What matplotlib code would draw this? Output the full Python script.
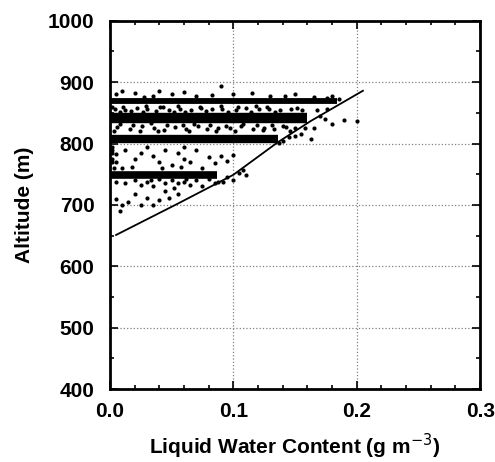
import numpy as np
import matplotlib.pyplot as plt
from matplotlib.ticker import MultipleLocator

# Constant-altitude flight legs: altitude (m), LWC range covered, band thickness (pt)
leg_alt = [869, 842, 807, 749]
leg_x_end = [0.184, 0.160, 0.136, 0.087]
leg_width = [4.2, 7.5, 6.0, 5.5]

# Scattered samples (LWC g m^-3, altitude m)
lwc_pts = [
    # above top leg
    0.005, 0.010, 0.020, 0.035, 0.040, 0.050, 0.060, 0.070, 0.090, 0.100,
    0.115, 0.130, 0.150, 0.165, 0.180, 0.028, 0.083, 0.142, 0.186, 0.176,
    # between top legs
    0.004, 0.012, 0.022, 0.030, 0.041, 0.048, 0.057, 0.066, 0.074, 0.083,
    0.091, 0.102, 0.110, 0.121, 0.129, 0.138, 0.147, 0.156, 0.168, 0.176,
    0.008, 0.017, 0.027, 0.037, 0.052, 0.061, 0.078, 0.096, 0.114, 0.134,
    0.006, 0.016, 0.026, 0.036, 0.044, 0.053, 0.062, 0.071, 0.079, 0.088,
    0.097, 0.106, 0.116, 0.125, 0.133, 0.143, 0.150,
    0.008, 0.019, 0.033, 0.046, 0.059, 0.068, 0.081, 0.094, 0.108, 0.119,
    0.131, 0.140, 0.003, 0.024, 0.039, 0.064, 0.086, 0.101, 0.124, 0.146,
    0.011, 0.029, 0.043, 0.055, 0.073, 0.090, 0.104, 0.118, 0.127, 0.152,
    0.002, 0.002, 0.002, 0.002,
    # right of the legs, near the boundary
    0.165, 0.174, 0.180, 0.190, 0.200, 0.163, 0.155, 0.150, 0.145, 0.158,
    0.140, 0.137, 0.170,
    # between 800 and 750 m
    0.005, 0.012, 0.020, 0.018, 0.030, 0.035, 0.040, 0.045, 0.050, 0.055,
    0.060, 0.065, 0.070, 0.075, 0.080, 0.085, 0.090, 0.095, 0.100, 0.005,
    0.010, 0.025, 0.042, 0.060, 0.058, 0.002, 0.002, 0.003,
    # just below the 750 m leg
    0.005, 0.012, 0.020, 0.025, 0.030, 0.035, 0.040, 0.045, 0.050, 0.052,
    0.055, 0.060, 0.065, 0.070, 0.075, 0.080, 0.085, 0.088, 0.045, 0.055,
    0.048, 0.040, 0.095, 0.100, 0.105, 0.108, 0.110, 0.092, 0.033, 0.062,
    # lowest samples
    0.005, 0.010, 0.008, 0.015, 0.025, 0.030, 0.035, 0.020,
]
alt_pts = [
    880, 885, 882, 878, 886, 880, 884, 878, 893, 880,
    882, 878, 880, 876, 878, 876, 879, 877, 873, 874,
    857, 855, 858, 856, 859, 854, 857, 855, 858, 856,
    857, 855, 858, 856, 857, 855, 856, 854, 855, 856,
    852, 853, 851, 853, 852, 851, 853, 852, 851, 852,
    827, 824, 828, 825, 822, 827, 824, 828, 823, 826,
    825, 828, 823, 826, 824, 827, 825,
    832, 830, 833, 831, 830, 832, 831, 829, 832, 830,
    831, 829, 821, 820, 821, 820, 821, 820, 822, 821,
    860, 861, 860, 861, 860, 861, 860, 861, 860, 858,
    770, 785, 795, 860,
    826, 840, 832, 838, 837, 807, 815, 812, 810, 825,
    804, 801, 845,
    783, 790, 775, 762, 795, 780, 770, 790, 765, 785,
    775, 770, 790, 760, 778, 768, 780, 772, 781, 770,
    760, 785, 760, 795, 762, 775, 790, 760,
    738, 735, 740, 732, 738, 730, 742, 735, 740, 728,
    735, 738, 732, 740, 730, 742, 735, 738, 722, 718,
    712, 708, 745, 740, 752, 757, 748, 738, 741, 743,
    710, 700, 690, 705, 700, 712, 700, 718,
]

# Lower boundary of the cloud
bound_lwc = [0.005, 0.055, 0.100, 0.136, 0.163, 0.205]
bound_alt = [651, 702, 749, 802, 837, 886]

plt.rcParams['font.family'] = ['Liberation Sans', 'DejaVu Sans']

fig = plt.figure(figsize=(4.95, 4.62), dpi=100)
ax = fig.add_axes([0.222, 0.158, 0.748, 0.797])

ax.hlines(leg_alt, 0.0, leg_x_end, colors='black', linewidth=leg_width, zorder=3)
ax.plot(lwc_pts, alt_pts, 'o', color='black', markersize=3.0, markeredgewidth=0, zorder=3)
ax.plot(bound_lwc, bound_alt, color='black', linewidth=1.3, zorder=4)

ax.set_xlim(0, 0.3)
ax.set_ylim(400, 1000)
ax.xaxis.set_major_locator(MultipleLocator(0.1))
ax.xaxis.set_minor_locator(MultipleLocator(0.02))
ax.yaxis.set_major_locator(MultipleLocator(100))
ax.yaxis.set_minor_locator(MultipleLocator(50))
ax.xaxis.set_major_formatter(plt.FuncFormatter(lambda v, p: f'{v:.1f}'))

ax.grid(True, which='major', color='gray', linestyle=':', linewidth=0.9)
ax.tick_params(which='both', direction='in', top=True, right=True, width=1.2)
ax.tick_params(which='major', length=6, labelsize=15)
ax.tick_params(axis='x', which='major', pad=9)
ax.tick_params(axis='y', which='major', pad=11)
ax.tick_params(which='minor', length=3)
for lab in ax.get_xticklabels() + ax.get_yticklabels():
    lab.set_fontweight('bold')
for sp in ax.spines.values():
    sp.set_linewidth(2)

ax.set_xlabel('Liquid Water Content (g m$^{-3}$)', fontsize=15, fontweight='bold', labelpad=8)
ax.set_ylabel('Altitude (m)', fontsize=15, fontweight='bold', labelpad=10)

fig.savefig('out.png', dpi=100)
